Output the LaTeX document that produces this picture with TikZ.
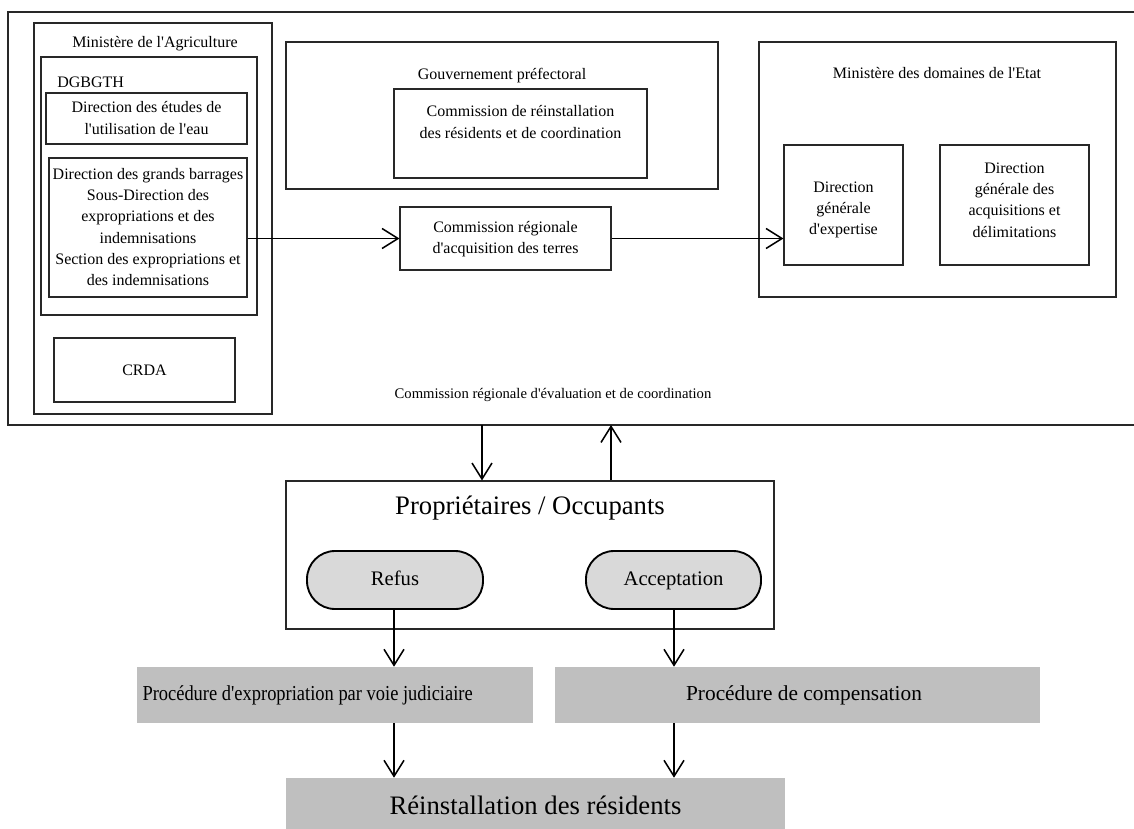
\documentclass[tikz,border=0pt]{standalone}
\usepackage{fontspec}
\usepackage{graphicx}
\setmainfont{Liberation Serif}
\usetikzlibrary{arrows.meta,fit,calc}
\definecolor{pillgray}{RGB}{217,217,217}
\definecolor{procgray}{RGB}{191,191,191}
\definecolor{edgegray}{RGB}{40,40,40}
\newcommand{\ap}{\textquotesingle}
\begin{document}
\begin{tikzpicture}[x=0.75pt,y=-0.75pt,
  box/.style={draw=edgegray, line width=0.8pt, inner sep=0pt},
  pill/.style={draw=black, line width=1.4pt, fill=pillgray, inner sep=0pt, rounded corners=21pt},
  procbox/.style={fill=procgray, inner sep=0pt},
  txt/.style={font=\fontsize{12}{16}\selectfont, align=center, inner sep=0pt},
  small/.style={font=\fontsize{11}{13}\selectfont, align=center, inner sep=0pt},
  big/.style={font=\fontsize{20}{24}\selectfont, align=center, inner sep=0pt},
  mid/.style={font=\fontsize{15.5}{19}\selectfont, align=center, inner sep=0pt, text height=10.5pt, text depth=3pt},
  proct/.style={font=\fontsize{16}{19}\selectfont, inner sep=0pt, text height=11pt, text depth=3pt},
  arr/.style={line width=1.15pt, -{Straight Barb[length=12pt,width=15pt,line width=1.15pt]}}]
\useasboundingbox (0,0) rectangle (1134,828);

% outer frame (right side runs off the page)
\node[box, fit={(8,12) (1160,425)}] (outer) {};

% Ministere de l'Agriculture
\node[box, fit={(34,23) (272,414)}] (minag) {};
\node[txt] (minagT) at (155,44) {Minist\`ere de l\ap Agriculture};
\node[box, fit={(41,57) (257,315)}] (dgb) {};
\node[txt, anchor=west] (dgbT) at (57,82) {DGBGTH};
\node[box, fit={(46,93) (247,144)}] (etu) {};
\node[txt] (etuT) at (146.5,118) {Direction des \'etudes de\\l\ap utilisation de l\ap eau};
\node[box, fit={(49,158) (247,297)}] (bar) {};
\node[txt] (barT) at (148,227) {Direction des grands barrages\\Sous-Direction des\\expropriations et des\\indemnisations\\Section des expropriations et\\des indemnisations};
\node[box, fit={(54,338) (235,402)}] (crda) {};
\node[txt] (crdaT) at (144.5,370) {CRDA};

% Gouvernement prefectoral
\node[box, fit={(286,42) (718,189)}] (gouv) {};
\node[txt] (gouvT) at (502,76) {Gouvernement pr\'efectoral};
\node[box, fit={(394,89) (647,178)}] (crr) {};
\node[txt] (crrT) at (520.5,122) {Commission de r\'einstallation\\des r\'esidents et de coordination};

% Commission regionale d'acquisition
\node[box, fit={(400,207) (611,270)}] (crat) {};
\node[txt] (cratT) at (505.5,239) {Commission r\'egionale\\d\ap acquisition des terres};

% Ministere des domaines
\node[box, fit={(759,42) (1116,297)}] (mdom) {};
\node[txt] (mdomT) at (937,73) {Minist\`ere des domaines de l\ap Etat};
\node[box, fit={(784,145) (903,265)}] (dge) {};
\node[txt] (dgeT) at (843.5,210) {Direction\\g\'en\'erale\\d\ap expertise};
\node[box, fit={(940,145) (1089,265)}] (dga) {};
\node[txt] (dgaT) at (1014.5,200) {Direction\\g\'en\'erale des\\acquisitions et\\d\'elimitations};

\node[small] (evalT) at (553,395) {Commission r\'egionale d\ap\'evaluation et de coordination};

% arrows top
\draw[arr] (bar.east |- crat.west) -- (crat.west);
\draw[arr] (crat.east) -- (crat.east -| dge.west);

% Proprietaires / Occupants
\node[box, fit={(286,481) (774,629)}] (prop) {};
\node[big] (propT) at (530,508) {Propri\'etaires / Occupants};
\node[pill, fit={(307,551) (483,609)}] (refus) {};
\node[mid] at (refus.center) (refusT) {Refus};
\node[pill, fit={(586,551) (761,609)}] (acc) {};
\node[mid] at (acc.center) (accT) {Acceptation};

\coordinate (dn) at (482,425);
\coordinate (up) at (611,425);
\draw[arr] (dn) -- (dn |- prop.north);
\draw[arr] (up |- prop.north) -- (up);

% procedures
\node[procbox, fit={(137,667) (533,723)}] (procL) {};
\node[proct, anchor=east] (procLT) at (473,695) {\scalebox{0.865}[1]{Proc\'edure d\ap expropriation par voie judiciaire}};
\node[procbox, fit={(555,667) (1040,723)}] (procR) {};
\node[proct] (procRT) at (804,695) {Proc\'edure de compensation};

\node[procbox, fit={(286,778) (785,832)}] (rein) {};
\node[big] (reinT) at (535.5,805) {R\'einstallation des r\'esidents};

\coordinate (la) at (394,0);
\coordinate (ra) at (674,0);
\draw[arr] (la |- refus.south) -- (la |- procL.north);
\draw[arr] (ra |- acc.south) -- (ra |- procR.north);
\draw[arr] (la |- procL.south) -- (la |- rein.north);
\draw[arr] (ra |- procR.south) -- (ra |- rein.north);
\end{tikzpicture}
\end{document}
